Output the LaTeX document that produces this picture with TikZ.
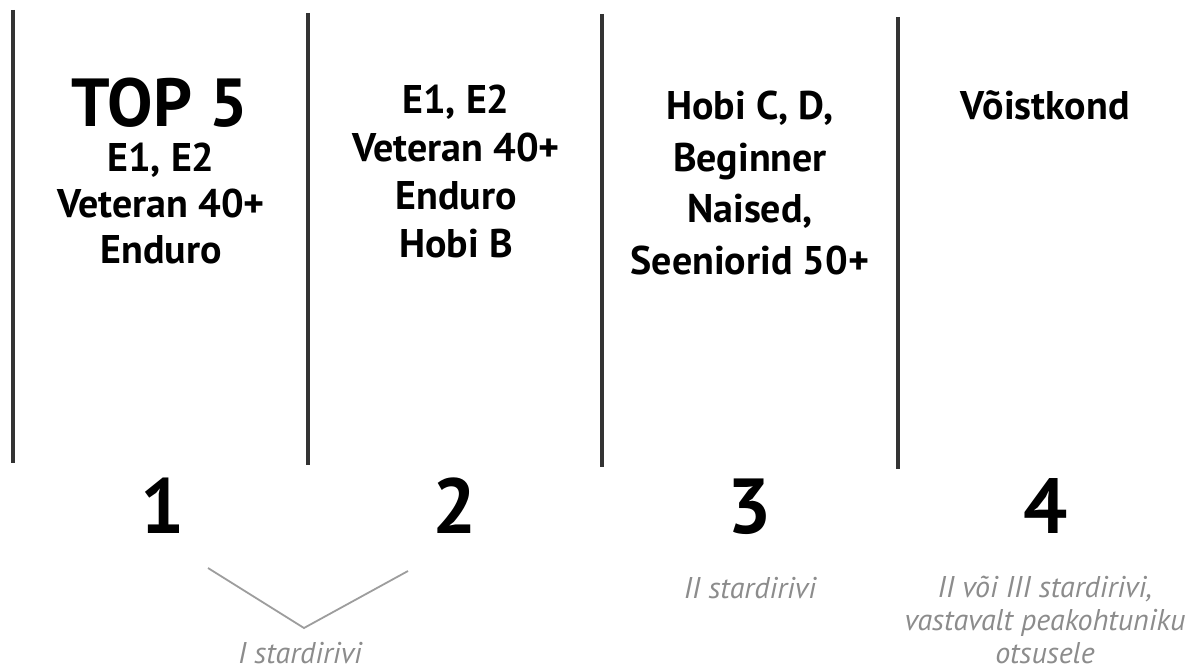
\documentclass[tikz,border=0pt]{standalone}
\usepackage{fontspec}
\setmainfont{PT Sans}
\usepackage{tikz}
\usetikzlibrary{positioning}

\definecolor{rulegray}{HTML}{333333}
\definecolor{notegray}{HTML}{8C8C8C}

\begin{document}
\begin{tikzpicture}[
    x=1pt, y=-1pt,
    % Column dividers
    divider/.style={line width=4.5pt, draw=rulegray},
    % Class lists in the columns (anchored at the last line)
    classes/.style={anchor=base, align=center, inner sep=0pt,
        font=\fontsize{40}{48}\selectfont\bfseries},
    headline/.style={anchor=base, inner sep=0pt,
        font=\fontsize{68}{68}\selectfont\bfseries},
    % Big column numbers
    number/.style={anchor=base, inner sep=0pt,
        font=\fontsize{78}{78}\selectfont\bfseries},
    % Grey notes below
    note/.style={anchor=base, align=center, inner sep=0pt, text=notegray,
        font=\fontsize{30}{33}\selectfont\itshape},
    bracket/.style={line width=1.8pt, draw=notegray!85}
]
    \useasboundingbox (0,0) rectangle (1189,671);

    % Dividers
    \draw[divider] (13,10) -- (13,463);
    \draw[divider] (308,13) -- (308,465);
    \draw[divider] (602,14) -- (602,467);
    \draw[divider] (898,17) -- (898,469);

    % Column 1
    \node[headline] (top) at (160,127) {TOP 5};
    \node[classes, font=\fontsize{40}{46}\selectfont\bfseries] (colA) at (161,263)
        {E1, E2\\Veteran 40+\\Enduro};

    % Column 2
    \node[classes] (colB) at (456,258) {E1, E2\\Veteran 40+\\Enduro\\Hobi B};

    % Column 3
    \node[classes, font=\fontsize{40}{52}\selectfont\bfseries] (colC) at (750,275)
        {Hobi C, D,\\Beginner\\Naised,\\Seeniorid 50+};

    % Column 4
    \node[classes] (colD) at (1045,120) {Võistkond};

    % Numbers
    \node[number] (one) at (163,533) {1};
    \node[number] (two) at (455,533) {2};
    \node[number] (three) at (750,533) {3};
    \node[number] (four) at (1046,533) {4};

    % Start rows
    \coordinate (vleft) at (208,568);
    \coordinate (vtip) at (304,628);
    \coordinate (vright) at (408,571);
    \draw[bracket] (vleft) -- (vtip) -- (vright);
    \node[note] (rowA) at (300,663) {I stardirivi};
    \node[note] (rowB) at (750,598) {II stardirivi};
    \node[note] (rowC) at (1045,663)
        {II või III stardirivi,\\vastavalt peakohtuniku\\otsusele};
\end{tikzpicture}
\end{document}
